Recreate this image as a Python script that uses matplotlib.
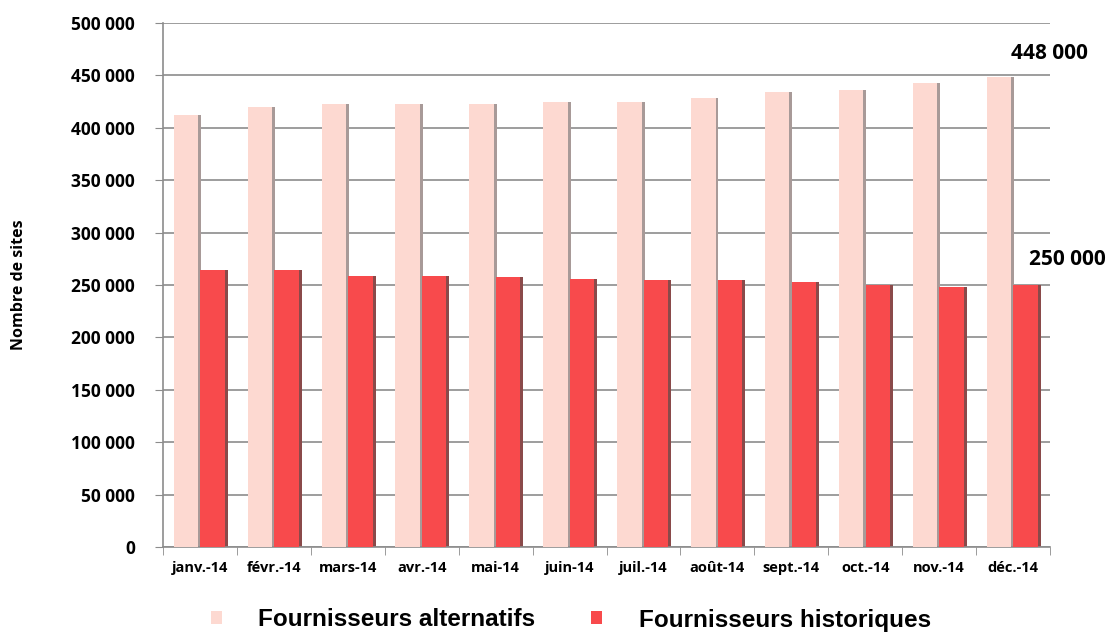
import numpy as np
import matplotlib.pyplot as plt
from matplotlib.ticker import FuncFormatter, FixedLocator

# data
mois = ['janv.-14', 'févr.-14', 'mars-14', 'avr.-14', 'mai-14', 'juin-14',
        'juil.-14', 'août-14', 'sept.-14', 'oct.-14', 'nov.-14', 'déc.-14']
alternatifs = [412000, 420000, 423000, 423000, 423000, 425000,
               425000, 428000, 434000, 436000, 443000, 448000]
historiques = [264000, 264000, 259000, 259000, 258000, 256000,
               255000, 255000, 253000, 250000, 248000, 250000]

col_alt = '#FDD9D1'
col_hist = '#F84A4C'

W, H = 1109, 637
fig = plt.figure(figsize=(W / 100, H / 100), dpi=100)
ax = fig.add_axes([163 / W, 1 - 547 / H, (1050 - 163) / W, (547 - 23) / H])

x = np.arange(len(mois))
w = 0.33
sh = 0.04
# grey offset bars behind give the shaded 3D look
ax.bar(x - 0.19 + sh, alternatifs, w, color='#a89a98', zorder=2)
ax.bar(x + 0.17 + sh, historiques, w, color='#8a4a4a', zorder=2)
ax.bar(x - 0.19, alternatifs, w, color=col_alt, zorder=3, label='Fournisseurs alternatifs')
ax.bar(x + 0.17, historiques, w, color=col_hist, zorder=3, label='Fournisseurs historiques')

ax.set_xlim(-0.5, len(mois) - 0.5)
ax.set_ylim(0, 500000)
ax.set_yticks(np.arange(0, 500001, 50000))
ax.yaxis.set_major_formatter(FuncFormatter(lambda v, p: f'{int(v):,}'.replace(',', ' ')))
ax.grid(axis='y', color='#8c8c8c', linewidth=1.2, zorder=0)

ax.set_xticks(x)
ax.set_xticklabels(mois)
ax.xaxis.set_minor_locator(FixedLocator(np.arange(-0.5, len(mois), 1)))
ax.tick_params(axis='x', which='major', length=0, pad=10)
ax.tick_params(axis='x', which='minor', length=6, color='#8c8c8c', direction='out')
ax.tick_params(axis='y', length=6, color='#8c8c8c', pad=14)

for lab in ax.get_xticklabels():
    lab.set_fontsize(10.5)
    lab.set_fontweight('bold')
    lab.set_family('Open Sans')
for lab in ax.get_yticklabels():
    lab.set_fontsize(12.5)
    lab.set_fontweight('bold')
    lab.set_family('Open Sans')

for s in ['top', 'right']:
    ax.spines[s].set_visible(False)
for s in ['left', 'bottom']:
    ax.spines[s].set_color('#8c8c8c')
    ax.spines[s].set_linewidth(1.2)

ax.set_ylabel('Nombre de sites', fontsize=11.5, fontweight='bold', family='Open Sans')
ax.yaxis.set_label_coords((27 - 163) / (1050 - 163), 0.5)

# value labels for the last month
ax.text(11.49, 471000, '448 000', fontsize=15, fontweight='bold', family='Open Sans',
        ha='center', va='center')
ax.text(12.25, 274000, '250 000', fontsize=15, fontweight='bold', family='Open Sans',
        ha='right', va='center', clip_on=False)

fig.legend(handles=ax.containers[2:], loc='center', bbox_to_anchor=(571 / W, 1 - 620 / H),
           ncol=2, frameon=False, handlelength=0.45, handleheight=0.45,
           columnspacing=2.3, handletextpad=1.5, borderpad=0,
           prop={'family': 'Liberation Sans', 'weight': 'bold', 'size': 17.5})

fig.savefig('out.png', dpi=100)
